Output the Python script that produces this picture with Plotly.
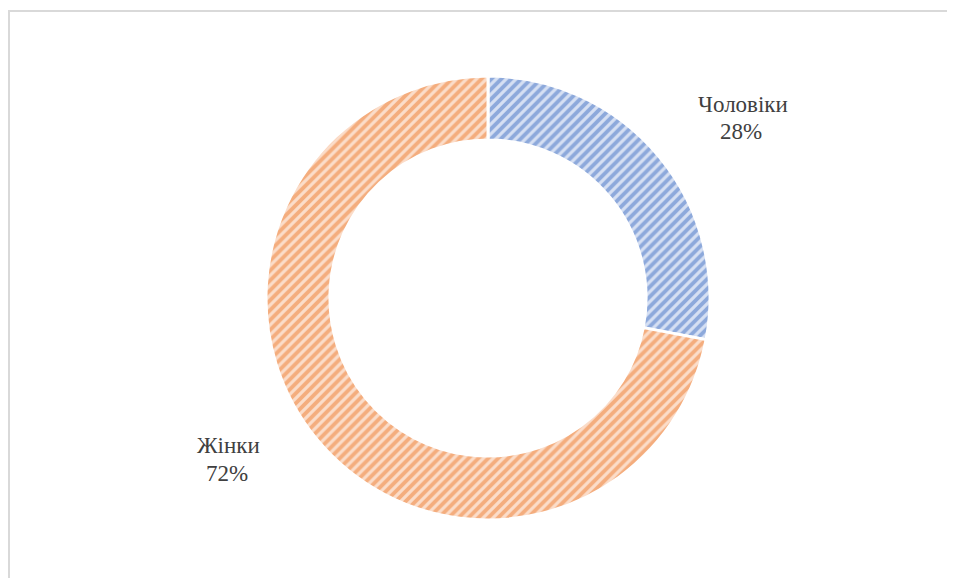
import plotly.graph_objects as go

labels = ["Чоловіки", "Жінки"]
values = [28, 72]
fg_colors = ["#4472C4", "#ED7D31"]
bg_colors = ["#D6E0F3", "#FBDDCA"]
# pixel centres (page coords) of the name line and the percent line
name_pos = [(743, 105), (228, 446)]
pct_pos = [(741, 131), (227, 473)]

OFF = 8  # page body margin
W, H = 955 - OFF, 578 - OFF
cx, cy, R = 488 - OFF, 298 - OFF, 222

fig = go.Figure(go.Pie(
    labels=labels, values=values, hole=0.712, sort=False,
    direction="clockwise", rotation=0, textinfo="none",
    hoverinfo="label+percent",
    marker=dict(colors=bg_colors, line=dict(color="white", width=3),
                pattern=dict(shape="/", fgcolor=fg_colors, bgcolor=bg_colors,
                             size=7, solidity=0.55, fillmode="overlay")),
    domain=dict(x=[(cx - R) / W, (cx + R) / W], y=[1 - (cy + R) / H, 1 - (cy - R) / H]),
    showlegend=False,
))

font = dict(family="Liberation Serif", size=23, color="#404040")
total = sum(values)
for lab, val, (nx, ny), (qx, qy) in zip(labels, values, name_pos, pct_pos):
    fig.add_annotation(x=(nx - OFF) / W, y=1 - (ny - OFF) / H, xref="paper", yref="paper",
                       xanchor="center", yanchor="middle", text=lab,
                       showarrow=False, font=font)
    fig.add_annotation(x=(qx - OFF) / W, y=1 - (qy - OFF) / H, xref="paper", yref="paper",
                       xanchor="center", yanchor="middle",
                       text=f"{round(val / total * 100)}%", showarrow=False, font=font)

# chart-area border (left and top edges visible)
fig.add_shape(type="line", xref="paper", yref="paper",
              x0=1 / W, x1=1 / W, y0=0, y1=1 - 2 / H,
              line=dict(color="#D9D9D9", width=2))
fig.add_shape(type="line", xref="paper", yref="paper",
              x0=0, x1=1, y0=1 - 3 / H, y1=1 - 3 / H,
              line=dict(color="#D9D9D9", width=2))

fig.update_layout(width=W, height=H, margin=dict(l=0, r=0, t=0, b=0),
                  paper_bgcolor="white", plot_bgcolor="white")
fig.write_html("out.html")
